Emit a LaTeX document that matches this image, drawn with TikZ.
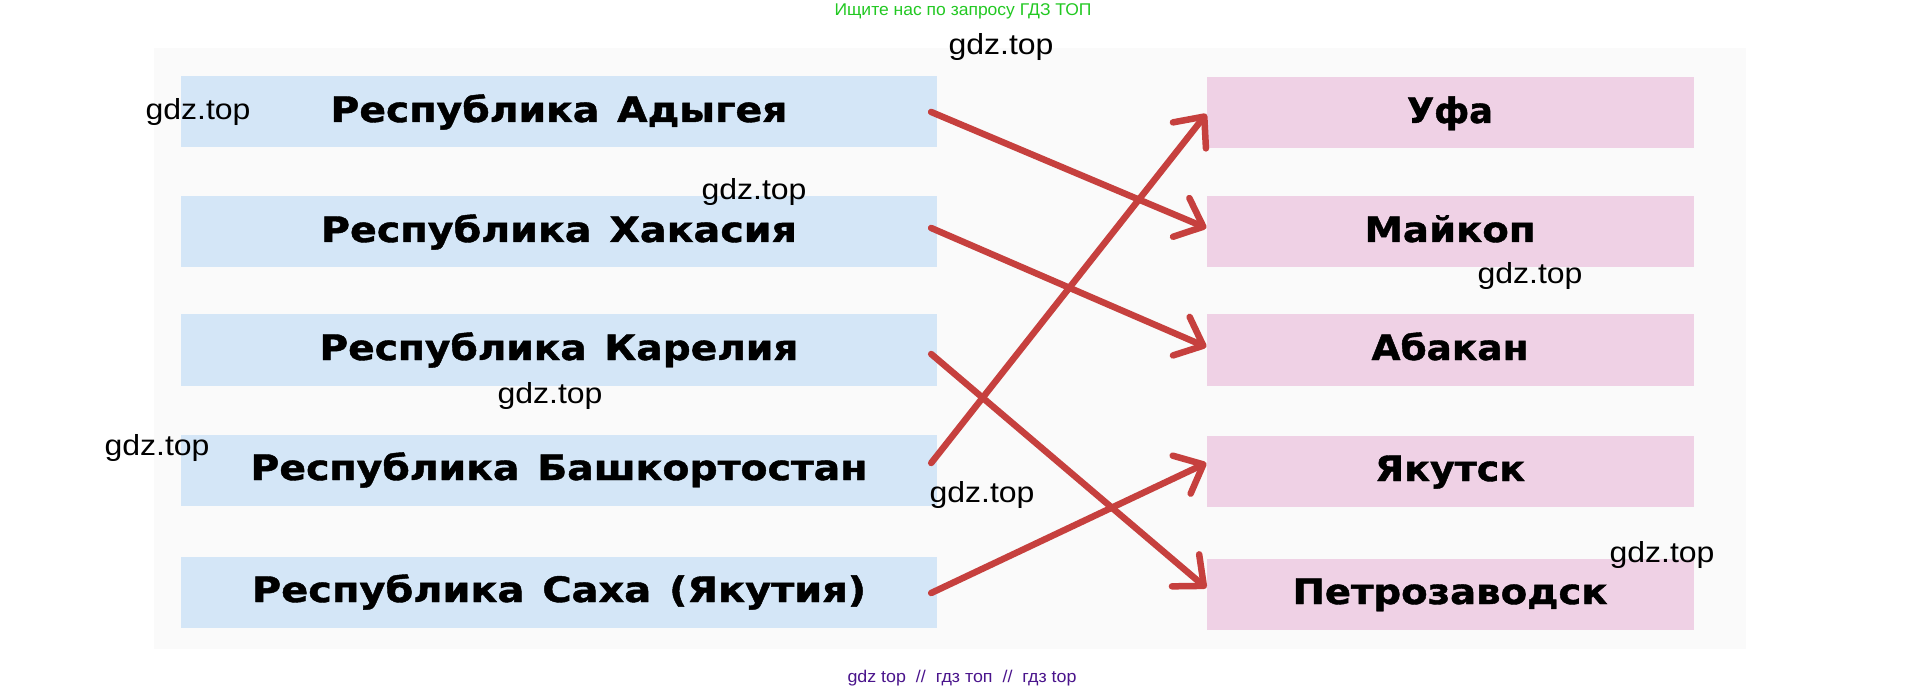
\documentclass[tikz,border=0pt]{standalone}
\usepackage{fontspec}
\setmainfont{Liberation Sans}
\newfontfamily\barfont{DejaVu Sans}[BoldFeatures={FakeBold=1.2}]
\usetikzlibrary{arrows.meta,calc}
\newcommand\fitw[2]{\resizebox{#1pt}{\height}{#2}}
\definecolor{barblue}{RGB}{212,230,247}
\definecolor{barpink}{RGB}{239,209,229}
\definecolor{arrowred}{RGB}{198,64,62}
\definecolor{pagegray}{RGB}{250,250,250}
\definecolor{wmgreen}{RGB}{34,200,34}
\definecolor{wmpurple}{RGB}{74,20,140}
\begin{document}
\begin{tikzpicture}[x=1pt,y=-1pt,
  barbase/.style={inner sep=0pt, text height=25pt, text depth=5pt,
    minimum height=71pt, font=\barfont\fontsize{35}{40}\selectfont\bfseries},
  leftbar/.style={barbase, fill=barblue, minimum width=756pt},
  rightbar/.style={barbase, fill=barpink, minimum width=487pt},
  link/.style={draw=arrowred, line width=6.5pt, line cap=round,
    -{Straight Barb[length=24pt,width=42pt,round]}},
  wm/.style={inner sep=0pt, font=\fontsize{29}{32}\selectfont},
  smallwm/.style={inner sep=0pt, font=\fontsize{17}{20}\selectfont}]
\useasboundingbox (0,0) rectangle (1926,692);
\fill[pagegray] (154,48) rectangle (1746,649);

% left column
\node[leftbar] (b1) at (559,112) {\fitw{457}{Республика\hspace{0.45em}Адыгея}};
\node[leftbar] (b2) at (559,232) {\fitw{476}{Республика\hspace{0.45em}Хакасия}};
\node[leftbar] (b3) at (559,350) {\fitw{479}{Республика\hspace{0.45em}Карелия}};
\node[leftbar] (b4) at (559,470) {\fitw{617}{Республика\hspace{0.45em}Башкортостан}};
\node[leftbar] (b5) at (559,592) {\fitw{614}{Республика\hspace{0.45em}Саха\hspace{0.45em}(Якутия)}};

% right column
\node[rightbar] (p1) at (1450,113) {\fitw{86}{Уфа}};
\node[rightbar] (p2) at (1450,232) {\fitw{171}{Майкоп}};
\node[rightbar] (p3) at (1450,350) {\fitw{157}{Абакан}};
\node[rightbar] (p4) at (1450,471) {\fitw{150}{Якутск}};
\node[rightbar] (p5) at (1450,594) {\fitw{315}{Петрозаводск}};

% connectors
\draw[link] ($(b1.east)+(-6,0)$) -- ($(p2.west)+(0,-4)$);
\draw[link] ($(b2.east)+(-6,-4)$) -- ($(p3.west)+(0,-3)$);
\draw[link] ($(b3.east)+(-6,4)$) -- ($(p5.west)+(0,-6)$);
\draw[link] ($(b4.east)+(-6,-7)$) -- ($(p1.west)+(0,1)$);
\draw[link] ($(b5.east)+(-6,1)$) -- ($(p4.west)+(0,-8)$);

% watermarks
\node[smallwm, text=wmgreen] (top) at (963,11) {\fitw{257}{Ищите нас по запросу ГДЗ ТОП}};
\node[smallwm, text=wmpurple] (bottom) at (962,678) {\fitw{229}{gdz top \ // \ гдз топ \ // \ гдз top}};
\node[wm] (w1) at (198,112) {\fitw{105}{gdz.top}};
\node[wm] (w2) at (754,192) {\fitw{105}{gdz.top}};
\node[wm] (w3) at (1001,47) {\fitw{105}{gdz.top}};
\node[wm] (w4) at (1530,276) {\fitw{105}{gdz.top}};
\node[wm] (w5) at (550,396) {\fitw{105}{gdz.top}};
\node[wm] (w6) at (157,448) {\fitw{105}{gdz.top}};
\node[wm] (w7) at (982,495) {\fitw{105}{gdz.top}};
\node[wm] (w8) at (1662,555) {\fitw{105}{gdz.top}};
\end{tikzpicture}
\end{document}
